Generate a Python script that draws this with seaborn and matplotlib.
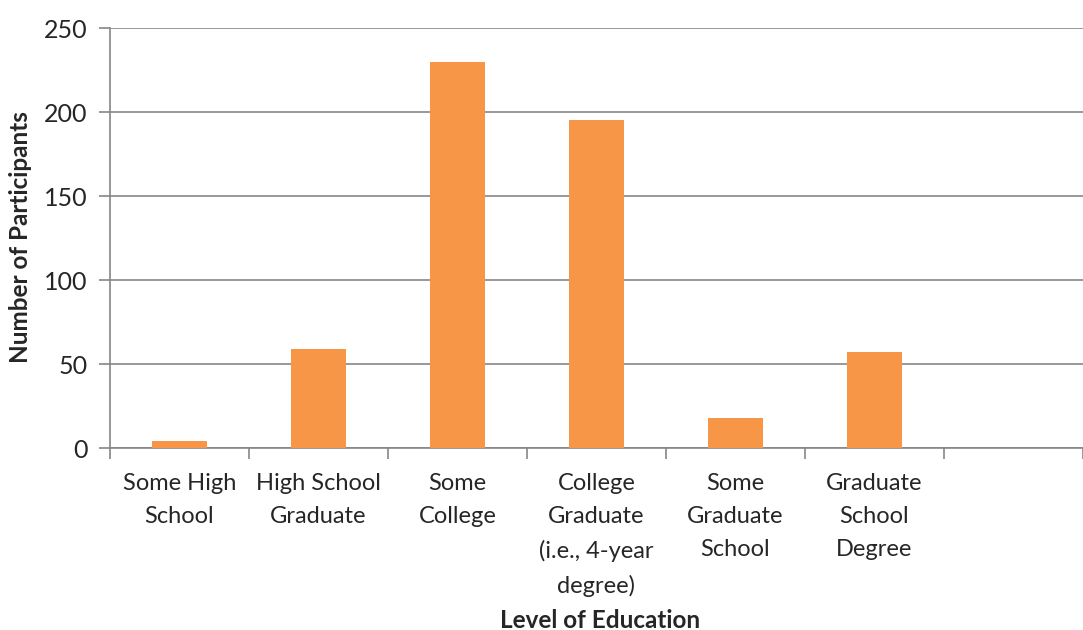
import matplotlib
matplotlib.use("Agg")
import matplotlib.pyplot as plt
import seaborn as sns
import pandas as pd
import numpy as np

categories = [
    "Some High\nSchool",
    "High School\nGraduate",
    "Some\nCollege",
    "College\nGraduate\n(i.e., 4-year\ndegree)",
    "Some\nGraduate\nSchool",
    "Graduate\nSchool\nDegree",
]
participants = [4, 59, 230, 195, 18, 57]
y_ticks = [0, 50, 100, 150, 200, 250]

sns.set_style("white")
plt.rcParams["font.family"] = ["Lato", "DejaVu Sans"]

bar_color = "#F79646"
axis_gray = "#868686"

df = pd.DataFrame({"Level": categories, "Count": participants})

fig = plt.figure(figsize=(10.83, 6.30), dpi=100)
ax = fig.add_axes([110 / 1083, 1 - 448 / 630, 973 / 1083, 420 / 630])

sns.barplot(data=df, x="Level", y="Count", color=bar_color, width=0.4,
            saturation=1, linewidth=0, ax=ax, zorder=3)

ax.set_ylim(0, 250)
ax.set_xlim(-0.5, 6.425)
ax.set_yticks(y_ticks)
ax.yaxis.grid(True, color=axis_gray, linewidth=1.2, zorder=0)
ax.set_axisbelow(True)

for side in ["top", "right"]:
    ax.spines[side].set_visible(False)
for side in ["left", "bottom"]:
    ax.spines[side].set_color(axis_gray)
    ax.spines[side].set_linewidth(1.2)

ax.set_xticks(range(len(categories)))
ax.set_xticklabels(categories, fontsize=17, linespacing=1.72, va="top")
ax.set_xticks(np.arange(-0.5, len(categories) + 1, 1.0), minor=True)
ax.tick_params(axis="x", which="major", length=0, pad=18)
ax.tick_params(axis="x", which="minor", length=8, width=1.2, color=axis_gray,
               direction="out", bottom=True)
ax.tick_params(axis="y", length=8, width=1.2, color=axis_gray, direction="out",
               left=True, labelsize=18, pad=8)

ax.set_xlabel("")
ax.set_ylabel("")
fig.text(600 / 1083, 1 - 620 / 630, "Level of Education", fontsize=17.5,
         fontweight="bold", ha="center", va="center")
fig.text(21 / 1083, 1 - 237 / 630, "Number of Participants", fontsize=17.5,
         fontweight="bold", ha="center", va="center", rotation=90)

fig.savefig("out.png", dpi=100)
